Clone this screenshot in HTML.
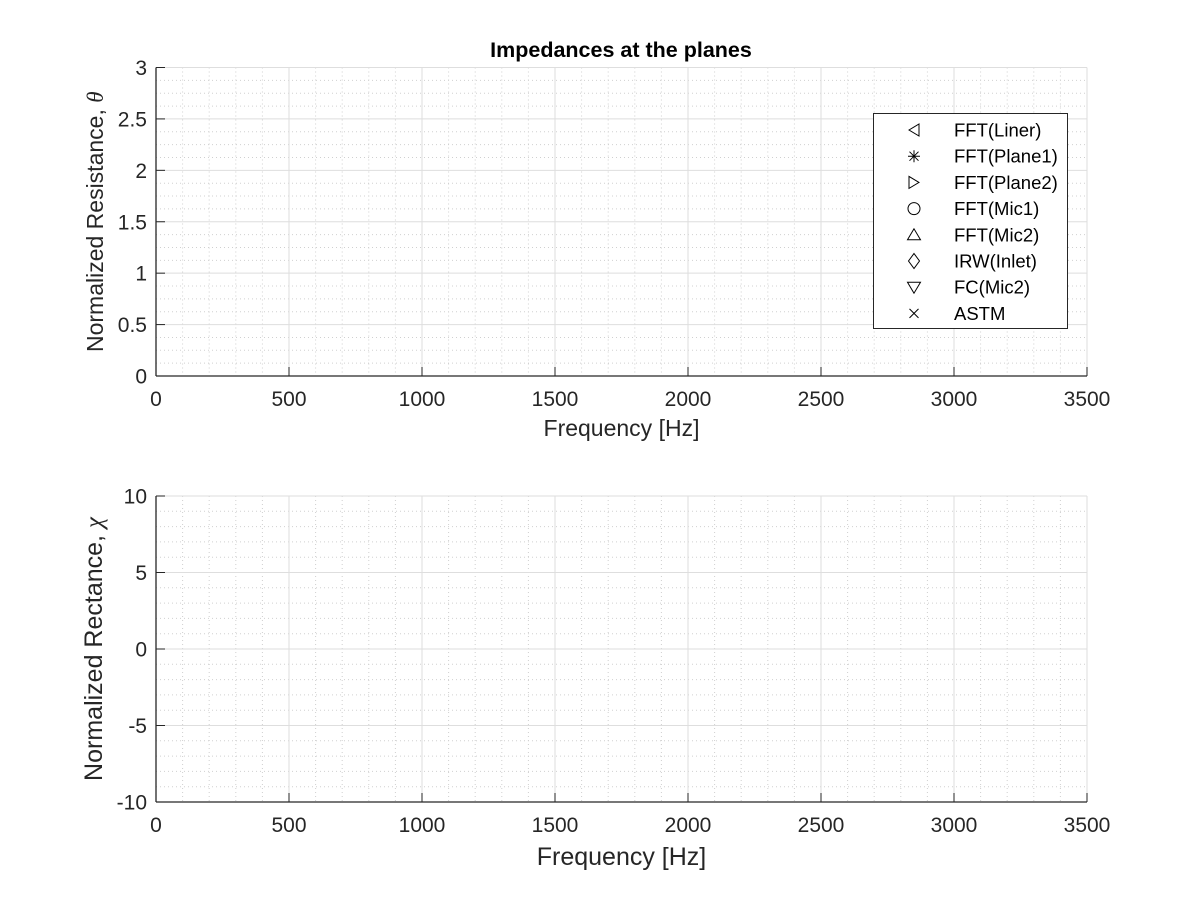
<!DOCTYPE html>
<html><head><meta charset="utf-8"><style>
body{margin:0;background:#fff}
svg{display:block;font-family:"Liberation Sans",sans-serif}
</style></head><body>
<svg id="chart" width="1200" height="900"></svg>
<script>
const xTicks=[0,500,1000,1500,2000,2500,3000,3500];
const yTicksTop=[0,0.5,1,1.5,2,2.5,3];
const yTicksBot=[-10,-5,0,5,10];
const legendLabels=["FFT(Liner)","FFT(Plane1)","FFT(Plane2)","FFT(Mic1)","FFT(Mic2)","IRW(Inlet)","FC(Mic2)","ASTM"];
const legendMarkers=["<","*",">","o","^","d","v","x"];
const NS="http://www.w3.org/2000/svg";
const svg=document.getElementById('chart');
function el(tag,attrs,parent,text){const e=document.createElementNS(NS,tag);for(const k in attrs)e.setAttribute(k,attrs[k]);if(text!==undefined)e.textContent=text;(parent||svg).appendChild(e);return e;}
const L=156,R=1087;
function sx(v){return L+(v-0)/(3500)*(R-L);}
function drawAxes(name,top,bot,ymin,ymax,yt,ysub,fmt,ylabel,xlabelY,xlabelSize,ylabX){
  const g=el('g',{},svg);
  
  
  const sy=v=>bot-(v-ymin)/(ymax-ymin)*(bot-top);
  for(let v=0;v<=3500;v+=100){if(v%500===0)continue;el('line',{x1:sx(v),x2:sx(v),y1:top,y2:bot,stroke:'#d0d0d0','stroke-width':1,'stroke-dasharray':'1,3'},g);}
  const ystep=(yt[1]-yt[0])/ysub;
  for(let i=0;i<(yt.length-1)*ysub;i++){if(i%ysub===0)continue;const v=ymin+i*ystep;el('line',{x1:L,x2:R,y1:sy(v),y2:sy(v),stroke:'#d0d0d0','stroke-width':1,'stroke-dasharray':'1,3'},g);}
  xTicks.forEach(v=>{el('line',{x1:sx(v),x2:sx(v),y1:top,y2:bot,stroke:'#dedede','stroke-width':1},g);});
  yt.forEach(v=>{el('line',{x1:L,x2:R,y1:sy(v),y2:sy(v),stroke:'#dedede','stroke-width':1},g);});
  el('line',{x1:L,x2:L,y1:top,y2:bot,stroke:'#262626','stroke-width':1.3},g);
  el('line',{x1:L,x2:R,y1:bot,y2:bot,stroke:'#262626','stroke-width':1.3},g);
  xTicks.forEach(v=>{el('line',{x1:sx(v),x2:sx(v),y1:bot,y2:bot-9,stroke:'#262626'},g);
    const t=el('text',{x:sx(v),y:bot+30,'text-anchor':'middle','font-size':21,fill:'#262626'},g,String(v));
    });
  yt.forEach(v=>{el('line',{x1:L,x2:L+9,y1:sy(v),y2:sy(v),stroke:'#262626'},g);
    const t=el('text',{x:L-9,y:sy(v)+7.5,'text-anchor':'end','font-size':21,fill:'#262626'},g,fmt(v));
    });
  const xl=el('text',{x:(L+R)/2,y:xlabelY,'text-anchor':'middle','font-size':xlabelSize,fill:'#262626'},g,'Frequency [Hz]');
  
  const cy=(top+bot)/2;
  const yl=el('text',{x:0,y:0,transform:`translate(${ylabX},${cy}) rotate(-90)`,'text-anchor':'middle','font-size':xlabelSize,fill:'#262626'},g);
  
  el('tspan',{},yl,ylabel[0]);el('tspan',{'font-family':'Liberation Serif, serif','font-style':'italic'},yl,ylabel[1]);
  return g;
}
drawAxes('resistance-axes',67.5,376,0,3,yTicksTop,4,v=>String(v),['Normalized Resistance, ','θ'],436,23,103);
drawAxes('reactance-axes',496,802,-10,10,yTicksBot,5,v=>String(v),['Normalized Rectance, ','χ'],865,25,102);
const title=el('text',{x:621,y:57,'text-anchor':'middle','font-size':21.5,'font-weight':'bold',fill:'#000'},svg,'Impedances at the planes');

const lg=el('g',{},svg);


el('rect',{x:873.5,y:113.5,width:194,height:215,fill:'#fff',stroke:'#262626','stroke-width':1},lg);
legendLabels.forEach((lab,i)=>{
  const y=130+i*26.2;const mx=914;
  const e=el('g',{},lg);
  
  
  const st={fill:'none',stroke:'#000','stroke-width':1};
  const m=legendMarkers[i];
  if(m==='<')el('polygon',Object.assign({points:`${mx-5},${y} ${mx+5},${y-6} ${mx+5},${y+6}`},st),e);
  if(m==='>')el('polygon',Object.assign({points:`${mx+5},${y} ${mx-5},${y-6} ${mx-5},${y+6}`},st),e);
  if(m==='^')el('polygon',Object.assign({points:`${mx},${y-6} ${mx-6.5},${y+5} ${mx+6.5},${y+5}`},st),e);
  if(m==='v')el('polygon',Object.assign({points:`${mx},${y+6} ${mx-6.5},${y-5} ${mx+6.5},${y-5}`},st),e);
  if(m==='d')el('polygon',Object.assign({points:`${mx},${y-7.5} ${mx+5.5},${y} ${mx},${y+7.5} ${mx-5.5},${y}`},st),e);
  if(m==='o')el('circle',Object.assign({cx:mx,cy:y,r:6},st),e);
  if(m==='x')el('path',Object.assign({d:`M${mx-4.5},${y-4.5}L${mx+4.5},${y+4.5}M${mx-4.5},${y+4.5}L${mx+4.5},${y-4.5}`},st),e);
  if(m==='*')el('path',Object.assign({d:`M${mx-6},${y}L${mx+6},${y}M${mx},${y-6}L${mx},${y+6}M${mx-4.5},${y-4.5}L${mx+4.5},${y+4.5}M${mx-4.5},${y+4.5}L${mx+4.5},${y-4.5}`},st),e);
  el('text',{x:954,y:y+6.5,'font-size':18.5,fill:'#000'},e,lab);
});
</script>
</body></html>
